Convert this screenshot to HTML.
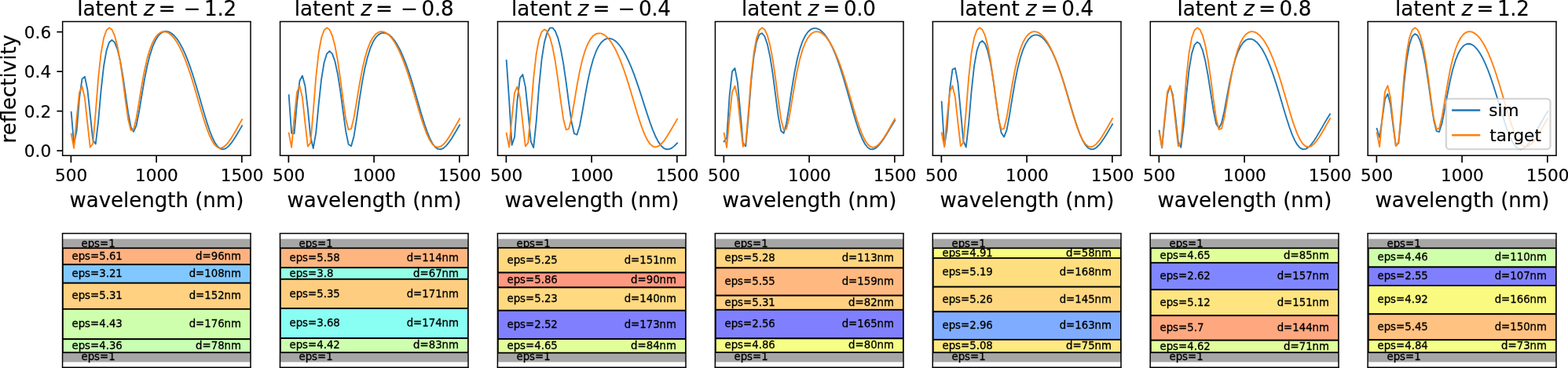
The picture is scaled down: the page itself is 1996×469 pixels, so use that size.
<!DOCTYPE html>
<html lang="en">
<head>
<meta charset="utf-8">
<title>Latent sweep: reflectivity spectra and layer stacks</title>
<style>
html,body{margin:0;padding:0;background:#fff}
svg{display:block}
text{font-family:"DejaVu Sans","Liberation Sans",sans-serif;fill:#000;stroke:#000;stroke-width:0.15px}
.ax-bot text{stroke-width:0.3px}
</style>
</head>
<body>
<svg width="1996" height="469" viewBox="0 0 1996 469">
<rect x="0" y="0" width="1996" height="469" fill="#ffffff"/>
<g class="ax-top">
<clipPath id="c0"><rect x="79.8" y="27.6" width="239.2" height="170.44"/></clipPath>
<polyline clip-path="url(#c0)" points="90.67,142.83 94.12,183.63 97.58,166.85 101.03,125.44 104.48,100.64 107.93,97.69 111.38,114.13 114.83,146.1 118.29,178.7 121.74,183.59 125.19,154.04 128.64,114.84 132.09,83.97 135.54,64.38 139,54.05 142.45,50.94 145.9,53.86 149.35,62.39 152.8,76.53 156.25,96.07 159.71,119.71 163.16,143.74 166.61,161.85 170.06,167.86 173.51,160.15 176.96,142.78 180.42,121.78 183.87,101.57 187.32,84.27 190.77,70.38 194.22,59.7 197.67,51.77 201.13,46.16 204.58,42.48 208.03,40.45 211.48,39.86 214.93,40.55 218.38,42.44 221.84,45.47 225.29,49.61 228.74,54.85 232.19,61.19 235.64,68.63 239.09,77.14 242.55,86.69 246,97.17 249.45,108.43 252.9,120.26 256.35,132.34 259.8,144.28 263.26,155.64 266.71,165.97 270.16,174.81 273.61,181.82 277.06,186.76 280.51,189.57 283.97,190.29 287.42,189.15 290.87,186.41 294.32,182.42 297.77,177.51 301.22,172 304.68,166.15 308.13,160.2" fill="none" stroke="#1f77b4" stroke-width="1.85" stroke-linejoin="round" stroke-linecap="square"/>
<polyline clip-path="url(#c0)" points="90.67,170.53 94.12,188.92 97.58,150.54 101.03,117.91 104.48,110.01 107.93,124.93 111.38,157.29 114.83,187.78 118.29,183.06 121.74,142.84 125.19,98.95 128.64,67.45 132.09,48.38 135.54,38.48 139,35.35 142.45,37.74 145.9,45.31 149.35,58.26 152.8,76.91 156.25,100.91 159.71,127.88 163.16,152.18 166.61,166.14 170.06,165.02 173.51,150.92 176.96,130.29 180.42,108.98 183.87,90.17 187.32,74.88 190.77,63.04 194.22,54.2 197.67,47.89 201.13,43.66 204.58,41.19 208.03,40.24 211.48,40.63 214.93,42.25 218.38,45.04 221.84,48.95 225.29,53.97 228.74,60.09 232.19,67.31 235.64,75.6 239.09,84.93 242.55,95.21 246,106.3 249.45,117.97 252.9,129.94 256.35,141.82 259.8,153.2 263.26,163.59 266.71,172.57 270.16,179.75 273.61,184.89 277.06,187.89 280.51,188.78 283.97,187.75 287.42,185.07 290.87,181.08 294.32,176.1 297.77,170.47 301.22,164.45 304.68,158.28 308.13,152.14" fill="none" stroke="#ff7f0e" stroke-width="1.85" stroke-linejoin="round" stroke-linecap="square"/>
<line x1="90.37" y1="198.04" x2="90.37" y2="207.24" stroke="#000" stroke-width="1.7"/>
<text x="90.67" y="231" font-size="21.6" text-anchor="middle">500</text>
<line x1="199.1" y1="198.04" x2="199.1" y2="207.24" stroke="#000" stroke-width="1.7"/>
<text x="199.4" y="231" font-size="21.6" text-anchor="middle">1000</text>
<line x1="307.83" y1="198.04" x2="307.83" y2="207.24" stroke="#000" stroke-width="1.7"/>
<text x="308.13" y="231" font-size="21.6" text-anchor="middle">1500</text>
<line x1="72.4" y1="192.09" x2="79.8" y2="192.09" stroke="#000" stroke-width="1.7"/>
<text x="65.2" y="200.19" font-size="21.6" text-anchor="end">0.0</text>
<line x1="72.4" y1="141.62" x2="79.8" y2="141.62" stroke="#000" stroke-width="1.7"/>
<text x="65.2" y="149.72" font-size="21.6" text-anchor="end">0.2</text>
<line x1="72.4" y1="91.15" x2="79.8" y2="91.15" stroke="#000" stroke-width="1.7"/>
<text x="65.2" y="99.25" font-size="21.6" text-anchor="end">0.4</text>
<line x1="72.4" y1="40.68" x2="79.8" y2="40.68" stroke="#000" stroke-width="1.7"/>
<text x="65.2" y="48.78" font-size="21.6" text-anchor="end">0.6</text>
<text transform="translate(19.7,113.22) rotate(-90)" font-size="26" text-anchor="middle">reflectivity</text>
<line x1="78.9" y1="27.5" x2="319.75" y2="27.5" stroke="#000" stroke-width="1.5"/>
<line x1="78.9" y1="198.2" x2="319.75" y2="198.2" stroke="#000" stroke-width="1.5"/>
<line x1="79.65" y1="27.5" x2="79.65" y2="198.2" stroke="#000" stroke-width="1.5"/>
<line x1="319" y1="27.5" x2="319" y2="198.2" stroke="#000" stroke-width="1.5"/>
<text x="199.4" y="264.1" font-size="26" text-anchor="middle">wavelength (nm)</text>
<text y="19.85" font-size="26.2"><tspan x="98.2">latent </tspan><tspan x="182.7" font-style="italic">z</tspan><tspan x="201.6">=</tspan><tspan x="233.5">−</tspan><tspan x="260.1" letter-spacing="-0.35">1.2</tspan></text>
</g>
<clipPath id="b0"><rect x="79.4" y="297.6" width="239.6" height="170.7"/></clipPath>
<g class="ax-bot" clip-path="url(#b0)">
<rect x="79.8" y="304.49" width="239.2" height="11.75" fill="#a6a6a6"/>
<text x="103.5" y="315.09" font-size="13.3">eps=1</text>
<rect x="79.8" y="449.26" width="239.2" height="12.2" fill="#a6a6a6"/>
<rect x="79.8" y="316.24" width="239.2" height="20.93" fill="#ffb280" stroke="#000" stroke-width="1.8"/>
<text x="91.5" y="330.81" font-size="13.3">eps=5.61</text>
<text x="307" y="330.81" font-size="13.3" text-anchor="end">d=96nm</text>
<rect x="79.8" y="337.18" width="239.2" height="23.55" fill="#80c8ff" stroke="#000" stroke-width="1.8"/>
<text x="91.5" y="353.05" font-size="13.3">eps=3.21</text>
<text x="307" y="353.05" font-size="13.3" text-anchor="end">d=108nm</text>
<rect x="79.8" y="360.73" width="239.2" height="33.14" fill="#ffd180" stroke="#000" stroke-width="1.8"/>
<text x="91.5" y="381.4" font-size="13.3">eps=5.31</text>
<text x="307" y="381.4" font-size="13.3" text-anchor="end">d=152nm</text>
<rect x="79.8" y="393.87" width="239.2" height="38.38" fill="#ceffac" stroke="#000" stroke-width="1.8"/>
<text x="91.5" y="417.16" font-size="13.3">eps=4.43</text>
<text x="307" y="417.16" font-size="13.3" text-anchor="end">d=176nm</text>
<rect x="79.8" y="432.25" width="239.2" height="17.01" fill="#c8ffb3" stroke="#000" stroke-width="1.8"/>
<text x="91.5" y="444.85" font-size="13.3">eps=4.36</text>
<text x="307" y="444.85" font-size="13.3" text-anchor="end">d=78nm</text>
<text x="103.5" y="459.01" font-size="13.3">eps=1</text>
</g>
<line x1="78.8" y1="297.6" x2="319.75" y2="297.6" stroke="#000" stroke-width="1.5"/>
<line x1="78.8" y1="468.3" x2="319.75" y2="468.3" stroke="#000" stroke-width="1.5"/>
<line x1="79.55" y1="297.6" x2="79.55" y2="468.3" stroke="#000" stroke-width="1.5"/>
<line x1="319" y1="297.6" x2="319" y2="468.3" stroke="#000" stroke-width="1.5"/>
<g class="ax-top">
<clipPath id="c1"><rect x="356.8" y="27.6" width="239.2" height="170.44"/></clipPath>
<polyline clip-path="url(#c1)" points="367.67,121.19 371.12,169.72 374.58,170.11 378.03,131.08 381.48,102.95 384.93,96.47 388.38,109.49 391.83,138.97 395.29,173.97 398.74,189.04 402.19,169.34 405.64,133.09 409.09,101.22 412.54,79.99 416,68.56 419.45,65.08 422.9,68.38 426.35,78.03 429.8,93.98 433.25,115.86 436.71,141.78 440.16,166.98 443.61,183.92 447.06,186.23 450.51,173.68 453.96,152 457.42,127.94 460.87,105.84 464.32,87.45 467.77,72.94 471.22,61.91 474.67,53.79 478.13,48.08 481.58,44.36 485.03,42.33 488.48,41.75 491.93,42.49 495.38,44.43 498.84,47.53 502.29,51.75 505.74,57.08 509.19,63.51 512.64,71.04 516.09,79.64 519.55,89.26 523,99.8 526.45,111.09 529.9,122.89 533.35,134.88 536.8,146.67 540.26,157.81 543.71,167.84 547.16,176.33 550.61,182.95 554.06,187.5 557.51,189.92 560.97,190.29 564.42,188.84 567.87,185.87 571.32,181.7 574.77,176.66 578.22,171.07 581.68,165.19 585.13,159.23" fill="none" stroke="#1f77b4" stroke-width="1.85" stroke-linejoin="round" stroke-linecap="square"/>
<polyline clip-path="url(#c1)" points="367.67,169.6 371.12,187.87 374.58,149.75 378.03,117.34 381.48,109.5 384.93,124.32 388.38,156.45 391.83,186.73 395.29,182.05 398.74,142.1 402.19,98.52 405.64,67.23 409.09,48.29 412.54,38.46 416,35.35 419.45,37.72 422.9,45.24 426.35,58.1 429.8,76.62 433.25,100.46 436.71,127.24 440.16,151.38 443.61,165.24 447.06,164.13 450.51,150.13 453.96,129.64 457.42,108.48 460.87,89.8 464.32,74.61 467.77,62.85 471.22,54.07 474.67,47.8 478.13,43.6 481.58,41.15 485.03,40.2 488.48,40.59 491.93,42.21 495.38,44.97 498.84,48.86 502.29,53.84 505.74,59.92 509.19,67.09 512.64,75.33 516.09,84.59 519.55,94.8 523,105.81 526.45,117.4 529.9,129.29 533.35,141.09 536.8,152.39 540.26,162.71 543.71,171.63 547.16,178.76 550.61,183.87 554.06,186.84 557.51,187.72 560.97,186.7 564.42,184.05 567.87,180.08 571.32,175.14 574.77,169.54 578.22,163.56 581.68,157.43 585.13,151.34" fill="none" stroke="#ff7f0e" stroke-width="1.85" stroke-linejoin="round" stroke-linecap="square"/>
<line x1="367.37" y1="198.04" x2="367.37" y2="207.24" stroke="#000" stroke-width="1.7"/>
<text x="367.67" y="231" font-size="21.6" text-anchor="middle">500</text>
<line x1="476.1" y1="198.04" x2="476.1" y2="207.24" stroke="#000" stroke-width="1.7"/>
<text x="476.4" y="231" font-size="21.6" text-anchor="middle">1000</text>
<line x1="584.83" y1="198.04" x2="584.83" y2="207.24" stroke="#000" stroke-width="1.7"/>
<text x="585.13" y="231" font-size="21.6" text-anchor="middle">1500</text>
<line x1="355.83" y1="27.5" x2="596.75" y2="27.5" stroke="#000" stroke-width="1.5"/>
<line x1="355.83" y1="198.2" x2="596.75" y2="198.2" stroke="#000" stroke-width="1.5"/>
<line x1="356.58" y1="27.5" x2="356.58" y2="198.2" stroke="#000" stroke-width="1.5"/>
<line x1="596" y1="27.5" x2="596" y2="198.2" stroke="#000" stroke-width="1.5"/>
<text x="476.4" y="264.1" font-size="26" text-anchor="middle">wavelength (nm)</text>
<text y="19.85" font-size="26.2"><tspan x="374.7">latent </tspan><tspan x="459.2" font-style="italic">z</tspan><tspan x="478.1">=</tspan><tspan x="510">−</tspan><tspan x="536.6" letter-spacing="-0.35">0.8</tspan></text>
</g>
<clipPath id="b1"><rect x="356.4" y="297.6" width="239.6" height="170.7"/></clipPath>
<g class="ax-bot" clip-path="url(#b1)">
<rect x="356.8" y="304.49" width="239.2" height="11.77" fill="#a6a6a6"/>
<text x="380.5" y="315.1" font-size="13.3">eps=1</text>
<rect x="356.8" y="449.24" width="239.2" height="12.22" fill="#a6a6a6"/>
<rect x="356.8" y="316.26" width="239.2" height="24.89" fill="#ffb580" stroke="#000" stroke-width="1.8"/>
<text x="368.5" y="332.81" font-size="13.3">eps=5.58</text>
<text x="584" y="332.81" font-size="13.3" text-anchor="end">d=114nm</text>
<rect x="356.8" y="341.15" width="239.2" height="14.63" fill="#94ffe6" stroke="#000" stroke-width="1.8"/>
<text x="368.5" y="352.57" font-size="13.3">eps=3.8</text>
<text x="584" y="352.57" font-size="13.3" text-anchor="end">d=67nm</text>
<rect x="356.8" y="355.78" width="239.2" height="37.34" fill="#ffcd80" stroke="#000" stroke-width="1.8"/>
<text x="368.5" y="378.55" font-size="13.3">eps=5.35</text>
<text x="584" y="378.55" font-size="13.3" text-anchor="end">d=171nm</text>
<rect x="356.8" y="393.12" width="239.2" height="37.99" fill="#89fef2" stroke="#000" stroke-width="1.8"/>
<text x="368.5" y="416.22" font-size="13.3">eps=3.68</text>
<text x="584" y="416.22" font-size="13.3" text-anchor="end">d=174nm</text>
<rect x="356.8" y="431.12" width="239.2" height="18.12" fill="#cdffae" stroke="#000" stroke-width="1.8"/>
<text x="368.5" y="444.28" font-size="13.3">eps=4.42</text>
<text x="584" y="444.28" font-size="13.3" text-anchor="end">d=83nm</text>
<text x="380.5" y="459" font-size="13.3">eps=1</text>
</g>
<line x1="355.73" y1="297.6" x2="596.75" y2="297.6" stroke="#000" stroke-width="1.5"/>
<line x1="355.73" y1="468.3" x2="596.75" y2="468.3" stroke="#000" stroke-width="1.5"/>
<line x1="356.48" y1="297.6" x2="356.48" y2="468.3" stroke="#000" stroke-width="1.5"/>
<line x1="596" y1="297.6" x2="596" y2="468.3" stroke="#000" stroke-width="1.5"/>
<g class="ax-top">
<clipPath id="c2"><rect x="633.8" y="27.6" width="239.2" height="170.44"/></clipPath>
<polyline clip-path="url(#c2)" points="644.67,76.92 648.12,127.2 651.58,184.87 655.03,174.76 658.48,128.03 661.93,99.65 665.38,94.93 668.83,110.6 672.29,143.67 675.74,180.38 679.19,188.11 682.64,155.11 686.09,110.58 689.54,75.97 693,53.91 696.45,41.4 699.9,35.73 703.35,35.35 706.8,39.58 710.25,48.37 713.71,62.06 717.16,80.95 720.61,104.69 724.06,131.09 727.51,155.2 730.96,170.26 734.42,171.7 737.87,160.58 741.32,142.22 744.77,122.06 748.22,103.49 751.67,87.89 755.13,75.47 758.58,65.95 762.03,58.92 765.48,53.99 768.93,50.83 772.38,49.19 775.84,48.88 779.29,49.78 782.74,51.8 786.19,54.89 789.64,59 793.09,64.12 796.55,70.22 800,77.3 803.45,85.3 806.9,94.18 810.35,103.82 813.8,114.09 817.26,124.77 820.71,135.61 824.16,146.3 827.61,156.49 831.06,165.82 834.51,173.95 837.97,180.6 841.42,185.58 844.87,188.8 848.32,190.29 851.77,190.17 855.22,188.62 858.68,185.89 862.13,182.24" fill="none" stroke="#1f77b4" stroke-width="1.85" stroke-linejoin="round" stroke-linecap="square"/>
<polyline clip-path="url(#c2)" points="644.67,169.61 648.12,187.58 651.58,150.08 655.03,118.2 658.48,110.49 661.93,125.06 665.38,156.68 668.83,186.46 672.29,181.86 675.74,142.56 679.19,99.68 682.64,68.9 686.09,50.27 689.54,40.61 693,37.54 696.45,39.88 699.9,47.27 703.35,59.92 706.8,78.15 710.25,101.59 713.71,127.94 717.16,151.69 720.61,165.33 724.06,164.23 727.51,150.45 730.96,130.3 734.42,109.48 737.87,91.11 741.32,76.16 744.77,64.59 748.22,55.96 751.67,49.79 755.13,45.66 758.58,43.25 762.03,42.32 765.48,42.7 768.93,44.29 772.38,47.01 775.84,50.83 779.29,55.74 782.74,61.71 786.19,68.77 789.64,76.87 793.09,85.99 796.55,96.03 800,106.86 803.45,118.26 806.9,129.95 810.35,141.57 813.8,152.68 817.26,162.83 820.71,171.6 824.16,178.62 827.61,183.64 831.06,186.57 834.51,187.44 837.97,186.43 841.42,183.82 844.87,179.92 848.32,175.06 851.77,169.55 855.22,163.67 858.68,157.64 862.13,151.64" fill="none" stroke="#ff7f0e" stroke-width="1.85" stroke-linejoin="round" stroke-linecap="square"/>
<line x1="644.37" y1="198.04" x2="644.37" y2="207.24" stroke="#000" stroke-width="1.7"/>
<text x="644.67" y="231" font-size="21.6" text-anchor="middle">500</text>
<line x1="753.1" y1="198.04" x2="753.1" y2="207.24" stroke="#000" stroke-width="1.7"/>
<text x="753.4" y="231" font-size="21.6" text-anchor="middle">1000</text>
<line x1="861.83" y1="198.04" x2="861.83" y2="207.24" stroke="#000" stroke-width="1.7"/>
<text x="862.13" y="231" font-size="21.6" text-anchor="middle">1500</text>
<line x1="632.76" y1="27.5" x2="873.75" y2="27.5" stroke="#000" stroke-width="1.5"/>
<line x1="632.76" y1="198.2" x2="873.75" y2="198.2" stroke="#000" stroke-width="1.5"/>
<line x1="633.51" y1="27.5" x2="633.51" y2="198.2" stroke="#000" stroke-width="1.5"/>
<line x1="873" y1="27.5" x2="873" y2="198.2" stroke="#000" stroke-width="1.5"/>
<text x="753.4" y="264.1" font-size="26" text-anchor="middle">wavelength (nm)</text>
<text y="19.85" font-size="26.2"><tspan x="651.1">latent </tspan><tspan x="735.6" font-style="italic">z</tspan><tspan x="754.5">=</tspan><tspan x="786.4">−</tspan><tspan x="813" letter-spacing="-0.35">0.4</tspan></text>
</g>
<clipPath id="b2"><rect x="633.4" y="297.6" width="239.6" height="170.7"/></clipPath>
<g class="ax-bot" clip-path="url(#b2)">
<rect x="633.8" y="304.49" width="239.2" height="11.34" fill="#a6a6a6"/>
<text x="657.5" y="314.89" font-size="13.3">eps=1</text>
<rect x="633.8" y="449.67" width="239.2" height="11.79" fill="#a6a6a6"/>
<rect x="633.8" y="315.83" width="239.2" height="31.68" fill="#ffd880" stroke="#000" stroke-width="1.8"/>
<text x="645.5" y="335.77" font-size="13.3">eps=5.25</text>
<text x="861" y="335.77" font-size="13.3" text-anchor="end">d=151nm</text>
<rect x="633.8" y="347.51" width="239.2" height="18.88" fill="#ff9880" stroke="#000" stroke-width="1.8"/>
<text x="645.5" y="361.05" font-size="13.3">eps=5.86</text>
<text x="861" y="361.05" font-size="13.3" text-anchor="end">d=90nm</text>
<rect x="633.8" y="366.39" width="239.2" height="29.37" fill="#ffda80" stroke="#000" stroke-width="1.8"/>
<text x="645.5" y="385.17" font-size="13.3">eps=5.23</text>
<text x="861" y="385.17" font-size="13.3" text-anchor="end">d=140nm</text>
<rect x="633.8" y="395.76" width="239.2" height="36.29" fill="#8080ff" stroke="#000" stroke-width="1.8"/>
<text x="645.5" y="418" font-size="13.3">eps=2.52</text>
<text x="861" y="418" font-size="13.3" text-anchor="end">d=173nm</text>
<rect x="633.8" y="432.05" width="239.2" height="17.62" fill="#e1ff99" stroke="#000" stroke-width="1.8"/>
<text x="645.5" y="444.96" font-size="13.3">eps=4.65</text>
<text x="861" y="444.96" font-size="13.3" text-anchor="end">d=84nm</text>
<text x="657.5" y="459.21" font-size="13.3">eps=1</text>
</g>
<line x1="632.66" y1="297.6" x2="873.75" y2="297.6" stroke="#000" stroke-width="1.5"/>
<line x1="632.66" y1="468.3" x2="873.75" y2="468.3" stroke="#000" stroke-width="1.5"/>
<line x1="633.41" y1="297.6" x2="633.41" y2="468.3" stroke="#000" stroke-width="1.5"/>
<line x1="873" y1="297.6" x2="873" y2="468.3" stroke="#000" stroke-width="1.5"/>
<g class="ax-top">
<clipPath id="c3"><rect x="910.8" y="27.6" width="239.2" height="170.44"/></clipPath>
<polyline clip-path="url(#c3)" points="921.67,180.37 925.12,175.81 928.58,122.3 932.03,91.08 935.48,86.86 938.93,105.21 942.38,142.93 945.83,182.77 949.29,186.23 952.74,147.83 956.19,103.4 959.64,71.74 963.09,53.11 966.54,44.1 970,42.29 973.45,46.53 976.9,56.59 980.35,72.72 983.8,94.94 987.25,121.73 990.71,148.37 994.16,166.75 997.61,169.82 1001.06,157.48 1004.51,136.18 1007.96,113.04 1011.42,92.24 1014.87,75.27 1018.32,62.13 1021.77,52.31 1025.22,45.25 1028.67,40.43 1032.13,37.48 1035.58,36.1 1039.03,36.11 1042.48,37.36 1045.93,39.79 1049.38,43.34 1052.84,48.01 1056.29,53.78 1059.74,60.67 1063.19,68.67 1066.64,77.76 1070.09,87.88 1073.55,98.92 1077,110.69 1080.45,122.95 1083.9,135.33 1087.35,147.42 1090.8,158.74 1094.26,168.83 1097.71,177.26 1101.16,183.72 1104.61,188.02 1108.06,190.17 1111.51,190.29 1114.97,188.64 1118.42,185.52 1121.87,181.28 1125.32,176.27 1128.77,170.76 1132.22,165.03 1135.68,159.27 1139.13,153.63" fill="none" stroke="#1f77b4" stroke-width="1.85" stroke-linejoin="round" stroke-linecap="square"/>
<polyline clip-path="url(#c3)" points="921.67,169.72 925.12,188 928.58,149.85 932.03,117.41 935.48,109.57 938.93,124.39 942.38,156.56 945.83,186.87 949.29,182.18 952.74,142.2 956.19,98.57 959.64,67.26 963.09,48.3 966.54,38.47 970,35.35 973.45,37.72 976.9,45.25 980.35,58.12 983.8,76.66 987.25,100.51 990.71,127.33 994.16,151.49 997.61,165.36 1001.06,164.25 1004.51,150.23 1007.96,129.72 1011.42,108.54 1014.87,89.84 1018.32,74.64 1021.77,62.87 1025.22,54.09 1028.67,47.81 1032.13,43.61 1035.58,41.16 1039.03,40.21 1042.48,40.6 1045.93,42.21 1049.38,44.98 1052.84,48.87 1056.29,53.86 1059.74,59.94 1063.19,67.11 1066.64,75.36 1070.09,84.64 1073.55,94.85 1077,105.87 1080.45,117.47 1083.9,129.37 1087.35,141.19 1090.8,152.49 1094.26,162.83 1097.71,171.75 1101.16,178.89 1104.61,184 1108.06,186.97 1111.51,187.86 1114.97,186.84 1118.42,184.18 1121.87,180.21 1125.32,175.26 1128.77,169.66 1132.22,163.68 1135.68,157.54 1139.13,151.44" fill="none" stroke="#ff7f0e" stroke-width="1.85" stroke-linejoin="round" stroke-linecap="square"/>
<line x1="921.37" y1="198.04" x2="921.37" y2="207.24" stroke="#000" stroke-width="1.7"/>
<text x="921.67" y="231" font-size="21.6" text-anchor="middle">500</text>
<line x1="1030.1" y1="198.04" x2="1030.1" y2="207.24" stroke="#000" stroke-width="1.7"/>
<text x="1030.4" y="231" font-size="21.6" text-anchor="middle">1000</text>
<line x1="1138.83" y1="198.04" x2="1138.83" y2="207.24" stroke="#000" stroke-width="1.7"/>
<text x="1139.13" y="231" font-size="21.6" text-anchor="middle">1500</text>
<line x1="909.69" y1="27.5" x2="1150.75" y2="27.5" stroke="#000" stroke-width="1.5"/>
<line x1="909.69" y1="198.2" x2="1150.75" y2="198.2" stroke="#000" stroke-width="1.5"/>
<line x1="910.44" y1="27.5" x2="910.44" y2="198.2" stroke="#000" stroke-width="1.5"/>
<line x1="1150" y1="27.5" x2="1150" y2="198.2" stroke="#000" stroke-width="1.5"/>
<text x="1030.4" y="264.1" font-size="26" text-anchor="middle">wavelength (nm)</text>
<text y="19.85" font-size="26.2"><tspan x="944">latent </tspan><tspan x="1028.5" font-style="italic">z</tspan><tspan x="1047.5">=</tspan><tspan x="1074" letter-spacing="-0.35">0.0</tspan></text>
</g>
<clipPath id="b3"><rect x="910.4" y="297.6" width="239.6" height="170.7"/></clipPath>
<g class="ax-bot" clip-path="url(#b3)">
<rect x="910.8" y="304.49" width="239.2" height="11.92" fill="#a6a6a6"/>
<text x="934.5" y="315.18" font-size="13.3">eps=1</text>
<rect x="910.8" y="449.08" width="239.2" height="12.37" fill="#a6a6a6"/>
<rect x="910.8" y="316.42" width="239.2" height="25.03" fill="#ffd580" stroke="#000" stroke-width="1.8"/>
<text x="922.5" y="333.03" font-size="13.3">eps=5.28</text>
<text x="1138" y="333.03" font-size="13.3" text-anchor="end">d=113nm</text>
<rect x="910.8" y="341.44" width="239.2" height="35.22" fill="#ffb980" stroke="#000" stroke-width="1.8"/>
<text x="922.5" y="363.15" font-size="13.3">eps=5.55</text>
<text x="1138" y="363.15" font-size="13.3" text-anchor="end">d=159nm</text>
<rect x="910.8" y="376.66" width="239.2" height="18.16" fill="#ffd180" stroke="#000" stroke-width="1.8"/>
<text x="922.5" y="389.84" font-size="13.3">eps=5.31</text>
<text x="1138" y="389.84" font-size="13.3" text-anchor="end">d=82nm</text>
<rect x="910.8" y="394.82" width="239.2" height="36.55" fill="#8080ff" stroke="#000" stroke-width="1.8"/>
<text x="922.5" y="417.19" font-size="13.3">eps=2.56</text>
<text x="1138" y="417.19" font-size="13.3" text-anchor="end">d=165nm</text>
<rect x="910.8" y="431.37" width="239.2" height="17.72" fill="#f5ff86" stroke="#000" stroke-width="1.8"/>
<text x="922.5" y="444.33" font-size="13.3">eps=4.86</text>
<text x="1138" y="444.33" font-size="13.3" text-anchor="end">d=80nm</text>
<text x="934.5" y="458.92" font-size="13.3">eps=1</text>
</g>
<line x1="909.59" y1="297.6" x2="1150.75" y2="297.6" stroke="#000" stroke-width="1.5"/>
<line x1="909.59" y1="468.3" x2="1150.75" y2="468.3" stroke="#000" stroke-width="1.5"/>
<line x1="910.34" y1="297.6" x2="910.34" y2="468.3" stroke="#000" stroke-width="1.5"/>
<line x1="1150" y1="297.6" x2="1150" y2="468.3" stroke="#000" stroke-width="1.5"/>
<g class="ax-top">
<clipPath id="c4"><rect x="1187.8" y="27.6" width="239.2" height="170.44"/></clipPath>
<polyline clip-path="url(#c4)" points="1198.67,129.71 1202.12,186.49 1205.58,163.89 1209.03,114.36 1212.48,88.59 1215.93,86.88 1219.38,105.47 1222.83,141.34 1226.29,179.56 1229.74,187.59 1233.19,156.79 1236.64,115.78 1240.09,84.21 1243.54,64.66 1247,54.68 1250.45,52.07 1253.9,55.61 1257.35,64.94 1260.8,80.08 1264.25,100.85 1267.71,125.78 1271.16,150.83 1274.61,169.23 1278.06,174.62 1281.51,165.83 1284.96,147.47 1288.42,125.83 1291.87,105.31 1295.32,87.9 1298.77,74.03 1302.22,63.42 1305.67,55.62 1309.13,50.15 1312.58,46.64 1316.03,44.8 1319.48,44.43 1322.93,45.37 1326.38,47.53 1329.84,50.86 1333.29,55.32 1336.74,60.9 1340.19,67.59 1343.64,75.37 1347.09,84.2 1350.55,94.01 1354,104.68 1357.45,116.01 1360.9,127.75 1364.35,139.54 1367.8,150.98 1371.26,161.63 1374.71,171.05 1378.16,178.84 1381.61,184.72 1385.06,188.54 1388.51,190.29 1391.97,190.11 1395.42,188.23 1398.87,184.95 1402.32,180.6 1405.77,175.5 1409.22,169.93 1412.68,164.14 1416.13,158.32" fill="none" stroke="#1f77b4" stroke-width="1.85" stroke-linejoin="round" stroke-linecap="square"/>
<polyline clip-path="url(#c4)" points="1198.67,169.22 1202.12,187.43 1205.58,149.42 1209.03,117.1 1212.48,109.29 1215.93,124.06 1219.38,156.11 1222.83,186.3 1226.29,181.63 1229.74,141.8 1233.19,98.33 1236.64,67.14 1240.09,48.25 1243.54,38.45 1247,35.35 1250.45,37.71 1253.9,45.21 1257.35,58.03 1260.8,76.5 1264.25,100.27 1267.71,126.98 1271.16,151.05 1274.61,164.87 1278.06,163.77 1281.51,149.8 1284.96,129.37 1288.42,108.27 1291.87,89.64 1295.32,74.49 1298.77,62.77 1302.22,54.02 1305.67,47.76 1309.13,43.58 1312.58,41.13 1316.03,40.19 1319.48,40.58 1322.93,42.19 1326.38,44.95 1329.84,48.82 1333.29,53.79 1336.74,59.85 1340.19,67 1343.64,75.21 1347.09,84.45 1350.55,94.63 1354,105.61 1357.45,117.17 1360.9,129.02 1364.35,140.79 1367.8,152.05 1371.26,162.35 1374.71,171.24 1378.16,178.35 1381.61,183.44 1385.06,186.4 1388.51,187.29 1391.97,186.27 1395.42,183.62 1398.87,179.66 1402.32,174.74 1405.77,169.15 1409.22,163.19 1412.68,157.08 1416.13,151" fill="none" stroke="#ff7f0e" stroke-width="1.85" stroke-linejoin="round" stroke-linecap="square"/>
<line x1="1198.37" y1="198.04" x2="1198.37" y2="207.24" stroke="#000" stroke-width="1.7"/>
<text x="1198.67" y="231" font-size="21.6" text-anchor="middle">500</text>
<line x1="1307.1" y1="198.04" x2="1307.1" y2="207.24" stroke="#000" stroke-width="1.7"/>
<text x="1307.4" y="231" font-size="21.6" text-anchor="middle">1000</text>
<line x1="1415.83" y1="198.04" x2="1415.83" y2="207.24" stroke="#000" stroke-width="1.7"/>
<text x="1416.13" y="231" font-size="21.6" text-anchor="middle">1500</text>
<line x1="1186.62" y1="27.5" x2="1427.75" y2="27.5" stroke="#000" stroke-width="1.5"/>
<line x1="1186.62" y1="198.2" x2="1427.75" y2="198.2" stroke="#000" stroke-width="1.5"/>
<line x1="1187.37" y1="27.5" x2="1187.37" y2="198.2" stroke="#000" stroke-width="1.5"/>
<line x1="1427" y1="27.5" x2="1427" y2="198.2" stroke="#000" stroke-width="1.5"/>
<text x="1307.4" y="264.1" font-size="26" text-anchor="middle">wavelength (nm)</text>
<text y="19.85" font-size="26.2"><tspan x="1221.25">latent </tspan><tspan x="1305.75" font-style="italic">z</tspan><tspan x="1324.75">=</tspan><tspan x="1351.25" letter-spacing="-0.35">0.4</tspan></text>
</g>
<clipPath id="b4"><rect x="1187.4" y="297.6" width="239.6" height="170.7"/></clipPath>
<g class="ax-bot" clip-path="url(#b4)">
<rect x="1187.8" y="304.49" width="239.2" height="11.77" fill="#a6a6a6"/>
<text x="1211.5" y="315.1" font-size="13.3">eps=1</text>
<rect x="1187.8" y="449.24" width="239.2" height="12.22" fill="#a6a6a6"/>
<rect x="1187.8" y="316.26" width="239.2" height="12.66" fill="#fafc81" stroke="#000" stroke-width="1.8"/>
<text x="1199.5" y="326.69" font-size="13.3">eps=4.91</text>
<text x="1415" y="326.69" font-size="13.3" text-anchor="end">d=58nm</text>
<rect x="1187.8" y="328.92" width="239.2" height="36.68" fill="#ffde80" stroke="#000" stroke-width="1.8"/>
<text x="1199.5" y="351.37" font-size="13.3">eps=5.19</text>
<text x="1415" y="351.37" font-size="13.3" text-anchor="end">d=168nm</text>
<rect x="1187.8" y="365.61" width="239.2" height="31.66" fill="#ffd780" stroke="#000" stroke-width="1.8"/>
<text x="1199.5" y="385.54" font-size="13.3">eps=5.26</text>
<text x="1415" y="385.54" font-size="13.3" text-anchor="end">d=145nm</text>
<rect x="1187.8" y="397.27" width="239.2" height="35.59" fill="#80acff" stroke="#000" stroke-width="1.8"/>
<text x="1199.5" y="419.17" font-size="13.3">eps=2.96</text>
<text x="1415" y="419.17" font-size="13.3" text-anchor="end">d=163nm</text>
<rect x="1187.8" y="432.86" width="239.2" height="16.38" fill="#ffe980" stroke="#000" stroke-width="1.8"/>
<text x="1199.5" y="445.15" font-size="13.3">eps=5.08</text>
<text x="1415" y="445.15" font-size="13.3" text-anchor="end">d=75nm</text>
<text x="1211.5" y="459" font-size="13.3">eps=1</text>
</g>
<line x1="1186.52" y1="297.6" x2="1427.75" y2="297.6" stroke="#000" stroke-width="1.5"/>
<line x1="1186.52" y1="468.3" x2="1427.75" y2="468.3" stroke="#000" stroke-width="1.5"/>
<line x1="1187.27" y1="297.6" x2="1187.27" y2="468.3" stroke="#000" stroke-width="1.5"/>
<line x1="1427" y1="297.6" x2="1427" y2="468.3" stroke="#000" stroke-width="1.5"/>
<g class="ax-top">
<clipPath id="c5"><rect x="1464.8" y="27.6" width="239.2" height="170.44"/></clipPath>
<polyline clip-path="url(#c5)" points="1475.67,166.58 1479.12,188.41 1482.58,153.73 1486.03,120.21 1489.48,109.65 1492.93,120.79 1496.38,149.12 1499.83,180.72 1503.29,187.82 1506.74,160.15 1510.19,120.66 1513.64,88.67 1517.09,68.1 1520.54,57.1 1524,53.52 1527.45,56.07 1530.9,64.22 1534.35,77.82 1537.8,96.5 1541.25,118.8 1544.71,141.11 1548.16,157.74 1551.61,163.37 1555.06,156.79 1558.51,141.53 1561.96,122.79 1565.42,104.53 1568.87,88.73 1572.32,75.98 1575.77,66.18 1579.22,58.99 1582.67,54.04 1586.13,51.01 1589.58,49.64 1593.03,49.76 1596.48,51.22 1599.93,53.95 1603.38,57.9 1606.84,63.03 1610.29,69.33 1613.74,76.78 1617.19,85.32 1620.64,94.89 1624.09,105.36 1627.55,116.55 1631,128.18 1634.45,139.91 1637.9,151.33 1641.35,161.97 1644.8,171.38 1648.26,179.14 1651.71,184.97 1655.16,188.69 1658.61,190.29 1662.06,189.92 1665.51,187.82 1668.97,184.31 1672.42,179.72 1675.87,174.39 1679.32,168.6 1682.77,162.62 1686.22,156.63 1689.68,150.78 1693.13,145.19" fill="none" stroke="#1f77b4" stroke-width="1.85" stroke-linejoin="round" stroke-linecap="square"/>
<polyline clip-path="url(#c5)" points="1475.67,169.3 1479.12,187.52 1482.58,149.49 1486.03,117.15 1489.48,109.33 1492.93,124.12 1496.38,156.18 1499.83,186.39 1503.29,181.72 1506.74,141.86 1510.19,98.37 1513.64,67.16 1517.09,48.26 1520.54,38.46 1524,35.35 1527.45,37.72 1530.9,45.22 1534.35,58.05 1537.8,76.53 1541.25,100.31 1544.71,127.04 1548.16,151.12 1551.61,164.95 1555.06,163.85 1558.51,149.87 1561.96,129.42 1565.42,108.31 1568.87,89.67 1572.32,74.52 1575.77,62.78 1579.22,54.03 1582.67,47.77 1586.13,43.58 1589.58,41.14 1593.03,40.19 1596.48,40.58 1599.93,42.19 1603.38,44.95 1606.84,48.83 1610.29,53.8 1613.74,59.86 1617.19,67.02 1620.64,75.24 1624.09,84.48 1627.55,94.67 1631,105.65 1634.45,117.22 1637.9,129.08 1641.35,140.85 1644.8,152.12 1648.26,162.43 1651.71,171.32 1655.16,178.44 1658.61,183.53 1662.06,186.5 1665.51,187.38 1668.97,186.36 1672.42,183.71 1675.87,179.75 1679.32,174.82 1682.77,169.24 1686.22,163.27 1689.68,157.16 1693.13,151.08" fill="none" stroke="#ff7f0e" stroke-width="1.85" stroke-linejoin="round" stroke-linecap="square"/>
<line x1="1475.37" y1="198.04" x2="1475.37" y2="207.24" stroke="#000" stroke-width="1.7"/>
<text x="1475.67" y="231" font-size="21.6" text-anchor="middle">500</text>
<line x1="1584.1" y1="198.04" x2="1584.1" y2="207.24" stroke="#000" stroke-width="1.7"/>
<text x="1584.4" y="231" font-size="21.6" text-anchor="middle">1000</text>
<line x1="1692.83" y1="198.04" x2="1692.83" y2="207.24" stroke="#000" stroke-width="1.7"/>
<text x="1693.13" y="231" font-size="21.6" text-anchor="middle">1500</text>
<line x1="1463.55" y1="27.5" x2="1704.75" y2="27.5" stroke="#000" stroke-width="1.5"/>
<line x1="1463.55" y1="198.2" x2="1704.75" y2="198.2" stroke="#000" stroke-width="1.5"/>
<line x1="1464.3" y1="27.5" x2="1464.3" y2="198.2" stroke="#000" stroke-width="1.5"/>
<line x1="1704" y1="27.5" x2="1704" y2="198.2" stroke="#000" stroke-width="1.5"/>
<text x="1584.4" y="264.1" font-size="26" text-anchor="middle">wavelength (nm)</text>
<text y="19.85" font-size="26.2"><tspan x="1498.5">latent </tspan><tspan x="1583" font-style="italic">z</tspan><tspan x="1602">=</tspan><tspan x="1628.5" letter-spacing="-0.35">0.8</tspan></text>
</g>
<clipPath id="b5"><rect x="1464.4" y="297.6" width="239.6" height="170.7"/></clipPath>
<g class="ax-bot" clip-path="url(#b5)">
<rect x="1464.8" y="304.49" width="239.2" height="11.78" fill="#a6a6a6"/>
<text x="1488.5" y="315.11" font-size="13.3">eps=1</text>
<rect x="1464.8" y="449.23" width="239.2" height="12.23" fill="#a6a6a6"/>
<rect x="1464.8" y="316.27" width="239.2" height="18.59" fill="#e1ff99" stroke="#000" stroke-width="1.8"/>
<text x="1476.5" y="329.67" font-size="13.3">eps=4.65</text>
<text x="1692" y="329.67" font-size="13.3" text-anchor="end">d=85nm</text>
<rect x="1464.8" y="334.86" width="239.2" height="34.33" fill="#8086ff" stroke="#000" stroke-width="1.8"/>
<text x="1476.5" y="356.13" font-size="13.3">eps=2.62</text>
<text x="1692" y="356.13" font-size="13.3" text-anchor="end">d=157nm</text>
<rect x="1464.8" y="369.19" width="239.2" height="33.02" fill="#ffe580" stroke="#000" stroke-width="1.8"/>
<text x="1476.5" y="389.8" font-size="13.3">eps=5.12</text>
<text x="1692" y="389.8" font-size="13.3" text-anchor="end">d=151nm</text>
<rect x="1464.8" y="402.21" width="239.2" height="31.49" fill="#ffa880" stroke="#000" stroke-width="1.8"/>
<text x="1476.5" y="422.06" font-size="13.3">eps=5.7</text>
<text x="1692" y="422.06" font-size="13.3" text-anchor="end">d=144nm</text>
<rect x="1464.8" y="433.7" width="239.2" height="15.53" fill="#e0ff9b" stroke="#000" stroke-width="1.8"/>
<text x="1476.5" y="445.56" font-size="13.3">eps=4.62</text>
<text x="1692" y="445.56" font-size="13.3" text-anchor="end">d=71nm</text>
<text x="1488.5" y="458.99" font-size="13.3">eps=1</text>
</g>
<line x1="1463.45" y1="297.6" x2="1704.75" y2="297.6" stroke="#000" stroke-width="1.5"/>
<line x1="1463.45" y1="468.3" x2="1704.75" y2="468.3" stroke="#000" stroke-width="1.5"/>
<line x1="1464.2" y1="297.6" x2="1464.2" y2="468.3" stroke="#000" stroke-width="1.5"/>
<line x1="1704" y1="297.6" x2="1704" y2="468.3" stroke="#000" stroke-width="1.5"/>
<g class="ax-top">
<clipPath id="c6"><rect x="1741.8" y="27.6" width="239.2" height="170.44"/></clipPath>
<polyline clip-path="url(#c6)" points="1752.67,163.91 1756.12,175.33 1759.58,151.21 1763.03,126.38 1766.48,119.61 1769.93,132.42 1773.38,160.07 1776.83,185.75 1780.29,182.4 1783.74,147.84 1787.19,107.29 1790.64,76.47 1794.09,57.06 1797.54,46.65 1801,43.08 1804.45,45.11 1807.9,52.34 1811.35,64.82 1814.8,82.65 1818.25,105.29 1821.71,130.45 1825.16,153.21 1828.61,167.13 1832.06,168.07 1835.51,157.22 1838.96,139.65 1842.42,120.52 1845.87,103 1849.32,88.4 1852.77,76.92 1856.22,68.33 1859.67,62.24 1863.13,58.29 1866.58,56.2 1870.03,55.74 1873.48,56.75 1876.93,59.11 1880.38,62.77 1883.84,67.68 1887.29,73.79 1890.74,81.07 1894.19,89.48 1897.64,98.92 1901.09,109.25 1904.55,120.28 1908,131.72 1911.45,143.21 1914.9,154.32 1918.35,164.59 1921.8,173.56 1925.26,180.83 1928.71,186.11 1932.16,189.26 1935.61,190.29 1939.06,189.37 1942.51,186.76 1945.97,182.79 1949.42,177.8 1952.87,172.13 1956.32,166.06 1959.77,159.85 1963.22,153.69 1966.68,147.71 1970.13,142.02" fill="none" stroke="#1f77b4" stroke-width="1.85" stroke-linejoin="round" stroke-linecap="square"/>
<polyline clip-path="url(#c6)" points="1752.67,168.98 1756.12,187.16 1759.58,149.22 1763.03,116.96 1766.48,109.16 1769.93,123.9 1773.38,155.89 1776.83,186.03 1780.29,181.37 1783.74,141.61 1787.19,98.22 1790.64,67.08 1794.09,48.23 1797.54,38.45 1801,35.35 1804.45,37.71 1807.9,45.19 1811.35,57.99 1814.8,76.43 1818.25,100.15 1821.71,126.82 1825.16,150.84 1828.61,164.64 1832.06,163.54 1835.51,149.59 1838.96,129.2 1842.42,108.14 1845.87,89.54 1849.32,74.42 1852.77,62.72 1856.22,53.99 1859.67,47.74 1863.13,43.56 1866.58,41.12 1870.03,40.18 1873.48,40.57 1876.93,42.17 1880.38,44.93 1883.84,48.79 1887.29,53.75 1890.74,59.8 1894.19,66.94 1897.64,75.14 1901.09,84.36 1904.55,94.52 1908,105.48 1911.45,117.02 1914.9,128.85 1918.35,140.6 1921.8,151.84 1925.26,162.12 1928.71,170.99 1932.16,178.09 1935.61,183.18 1939.06,186.13 1942.51,187.02 1945.97,186 1949.42,183.35 1952.87,179.41 1956.32,174.49 1959.77,168.92 1963.22,162.96 1966.68,156.87 1970.13,150.8" fill="none" stroke="#ff7f0e" stroke-width="1.85" stroke-linejoin="round" stroke-linecap="square"/>
<line x1="1752.37" y1="198.04" x2="1752.37" y2="207.24" stroke="#000" stroke-width="1.7"/>
<text x="1752.67" y="231" font-size="21.6" text-anchor="middle">500</text>
<line x1="1861.1" y1="198.04" x2="1861.1" y2="207.24" stroke="#000" stroke-width="1.7"/>
<text x="1861.4" y="231" font-size="21.6" text-anchor="middle">1000</text>
<line x1="1969.83" y1="198.04" x2="1969.83" y2="207.24" stroke="#000" stroke-width="1.7"/>
<text x="1970.13" y="231" font-size="21.6" text-anchor="middle">1500</text>
<line x1="1740.48" y1="27.5" x2="1981.75" y2="27.5" stroke="#000" stroke-width="1.5"/>
<line x1="1740.48" y1="198.2" x2="1981.75" y2="198.2" stroke="#000" stroke-width="1.5"/>
<line x1="1741.23" y1="27.5" x2="1741.23" y2="198.2" stroke="#000" stroke-width="1.5"/>
<line x1="1981" y1="27.5" x2="1981" y2="198.2" stroke="#000" stroke-width="1.5"/>
<text x="1861.4" y="264.1" font-size="26" text-anchor="middle">wavelength (nm)</text>
<text y="19.85" font-size="26.2"><tspan x="1776">latent </tspan><tspan x="1860.5" font-style="italic">z</tspan><tspan x="1879.5">=</tspan><tspan x="1906" letter-spacing="-0.35">1.2</tspan></text>
<rect x="1840.9" y="125.9" width="132.6" height="64.2" rx="4.2" ry="4.2" fill="#ffffff" fill-opacity="0.8" stroke="#cccccc" stroke-opacity="0.8" stroke-width="2.4"/>
<line x1="1848.1" y1="140.5" x2="1884.3" y2="140.5" stroke="#1f77b4" stroke-width="2.5"/>
<line x1="1848.1" y1="172.3" x2="1884.3" y2="172.3" stroke="#ff7f0e" stroke-width="2.5"/>
<text x="1895.2" y="148.2" font-size="21.6">sim</text>
<text x="1896.2" y="180.3" font-size="21.6">target</text>
</g>
<clipPath id="b6"><rect x="1741.4" y="297.6" width="239.6" height="170.7"/></clipPath>
<g class="ax-bot" clip-path="url(#b6)">
<rect x="1741.8" y="304.49" width="239.2" height="11.81" fill="#a6a6a6"/>
<text x="1765.5" y="315.12" font-size="13.3">eps=1</text>
<rect x="1741.8" y="449.19" width="239.2" height="12.26" fill="#a6a6a6"/>
<rect x="1741.8" y="316.31" width="239.2" height="24.12" fill="#d0ffab" stroke="#000" stroke-width="1.8"/>
<text x="1753.5" y="332.47" font-size="13.3">eps=4.46</text>
<text x="1969" y="332.47" font-size="13.3" text-anchor="end">d=110nm</text>
<rect x="1741.8" y="340.43" width="239.2" height="23.46" fill="#8080ff" stroke="#000" stroke-width="1.8"/>
<text x="1753.5" y="356.26" font-size="13.3">eps=2.55</text>
<text x="1969" y="356.26" font-size="13.3" text-anchor="end">d=107nm</text>
<rect x="1741.8" y="363.89" width="239.2" height="36.4" fill="#fbfa80" stroke="#000" stroke-width="1.8"/>
<text x="1753.5" y="386.19" font-size="13.3">eps=4.92</text>
<text x="1969" y="386.19" font-size="13.3" text-anchor="end">d=166nm</text>
<rect x="1741.8" y="400.29" width="239.2" height="32.89" fill="#ffc280" stroke="#000" stroke-width="1.8"/>
<text x="1753.5" y="420.84" font-size="13.3">eps=5.45</text>
<text x="1969" y="420.84" font-size="13.3" text-anchor="end">d=150nm</text>
<rect x="1741.8" y="433.19" width="239.2" height="16.01" fill="#f3ff87" stroke="#000" stroke-width="1.8"/>
<text x="1753.5" y="445.29" font-size="13.3">eps=4.84</text>
<text x="1969" y="445.29" font-size="13.3" text-anchor="end">d=73nm</text>
<text x="1765.5" y="458.98" font-size="13.3">eps=1</text>
</g>
<line x1="1740.38" y1="297.6" x2="1981.75" y2="297.6" stroke="#000" stroke-width="1.5"/>
<line x1="1740.38" y1="468.3" x2="1981.75" y2="468.3" stroke="#000" stroke-width="1.5"/>
<line x1="1741.13" y1="297.6" x2="1741.13" y2="468.3" stroke="#000" stroke-width="1.5"/>
<line x1="1981" y1="297.6" x2="1981" y2="468.3" stroke="#000" stroke-width="1.5"/>
</svg>
</body>
</html>
